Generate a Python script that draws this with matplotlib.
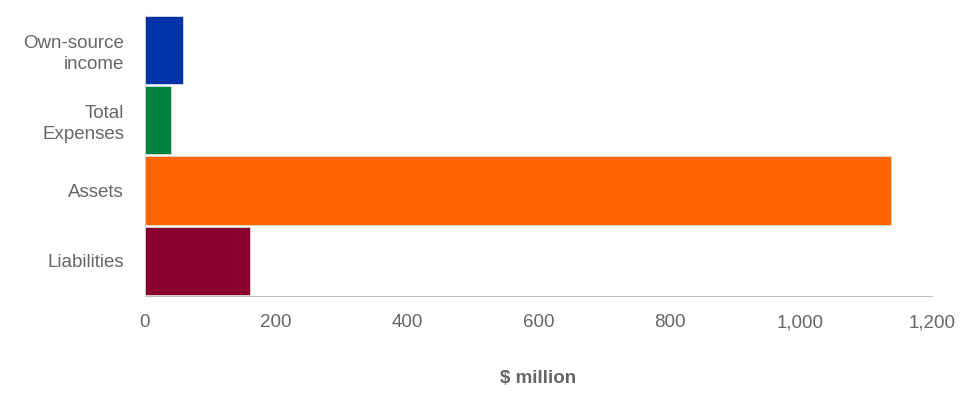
import matplotlib
matplotlib.use('Agg')
from matplotlib import pyplot as plt

categories = ['Own-source\nincome', 'Total\nExpenses', 'Assets', 'Liabilities']
values = [57.3, 39.6, 1138, 160.6]
colors = ['#0033A8', '#00843D', '#FF6600', '#8A0030']

plt.rcParams['font.family'] = ['Liberation Sans', 'DejaVu Sans']

fig = plt.figure(figsize=(9.79, 3.99), dpi=100)
ax = fig.add_axes([145 / 979, 1 - 296 / 399, (931.7 - 145) / 979, (296 - 14.5) / 399])

y = list(range(len(categories)))
ax.barh(y, values, height=0.97, color=colors, edgecolor='#dddddd', linewidth=0.6)
ax.set_ylim(len(categories) - 0.5, -0.5)
ax.set_xlim(0, 1200)
ax.set_yticks(y)
ax.set_yticklabels(categories, fontsize=13.5, color='#666666', ha='right', multialignment='right',
                   linespacing=1.3)
ax.tick_params(axis='y', length=0, pad=15)
ax.set_xticks([0, 200, 400, 600, 800, 1000, 1200])
ax.set_xticklabels(['0', '200', '400', '600', '800', '1,000', '1,200'], fontsize=13.5, color='#666666')
ax.tick_params(axis='x', length=0, pad=13)
ax.set_xlabel('$ million', fontsize=13.5, fontweight='bold', color='#666666', labelpad=28)

for s in ['top', 'right']:
    ax.spines[s].set_visible(False)
ax.spines['bottom'].set_color('#BFBFBF')
ax.spines['left'].set_color('#cccccc')
ax.spines['left'].set_linewidth(0.6)

fig.savefig('out.png', dpi=100)
